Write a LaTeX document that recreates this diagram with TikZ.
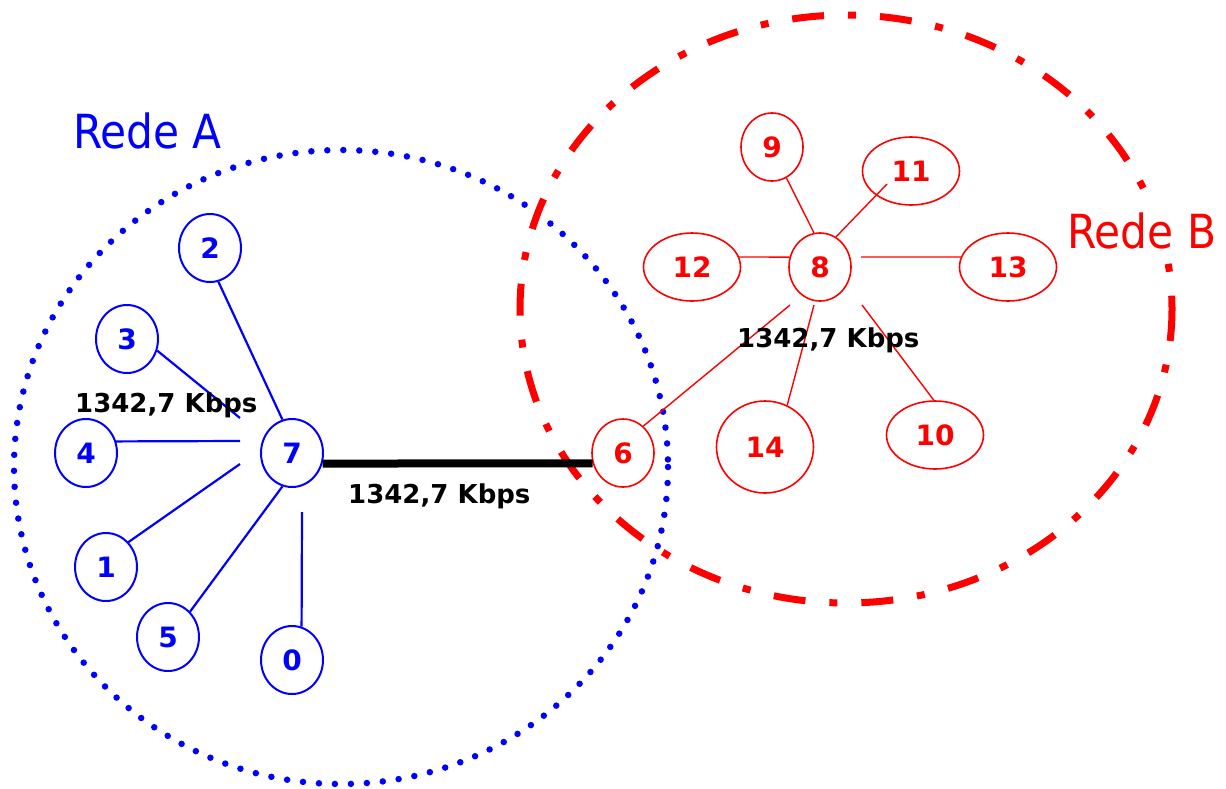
\documentclass[tikz,border=0pt]{standalone}
\usepackage{fontspec}
\setmainfont{DejaVu Sans}
\newfontfamily\redefont{DejaVu Sans}[FakeStretch=0.9]
\usetikzlibrary{shapes.geometric}
\definecolor{bl}{RGB}{0,0,255}
\definecolor{rd}{RGB}{255,0,0}
\begin{document}
\begin{tikzpicture}[x=1pt,y=-1pt,
  numfont/.style={font=\fontsize{28}{28}\selectfont\bfseries},
  bnode/.style={ellipse,draw=bl,line width=2pt,text=bl,numfont,inner sep=0pt,minimum width=62pt,minimum height=68pt},
  rnode/.style={ellipse,draw=rd,line width=1.6pt,text=rd,numfont,inner sep=0pt,minimum width=62pt,minimum height=68pt},
  rwide/.style={rnode,minimum width=97pt},
  bedge/.style={draw=bl,line width=2.2pt},
  redge/.style={draw=rd,line width=1.4pt},
  rate/.style={anchor=base west,inner sep=0pt,font=\fontsize{26}{26}\selectfont\bfseries,text=black},
  netlabel/.style={anchor=base west,font=\redefont\fontsize{47}{47}\selectfont}
]
\useasboundingbox (0,0) rectangle (1226,788);

% network boundaries
\draw[bl,line width=6.5pt,line cap=round,dash pattern=on 0pt off 16pt]
  (341,467) ellipse [x radius=327, y radius=317];
\draw[rd,line width=7pt,dash pattern=on 32pt off 24pt on 8pt off 24pt]
  (846,309) ellipse [x radius=326, y radius=294];

% blue nodes
\node[bnode] (n2) at (210,248) {2};
\node[bnode] (n3) at (127,339) {3};
\node[bnode] (n4) at (86,453) {4};
\node[bnode] (n7) at (292,453) {7};
\node[bnode] (n1) at (106,567) {1};
\node[bnode] (n5) at (168,637) {5};
\node[bnode] (n0) at (292,660) {0};

% red nodes
\node[rnode] (n9) at (772,147) {9};
\node[rnode] (n8) at (820,267) {8};
\node[rnode] (n6) at (623,453) {6};
\node[rwide] (n11) at (911,171) {11};
\node[rwide] (n12) at (692,267) {12};
\node[rwide] (n13) at (1008,267) {13};
\node[rwide] (n10) at (935,435) {10};
\node[rnode,minimum width=97pt,minimum height=92pt] (n14) at (765,447) {14};

% free ends
\coordinate (c3) at (240,418);
\coordinate (c4) at (240,441);
\coordinate (c1) at (240,464);
\coordinate (c0) at (302,512);
\coordinate (c11) at (887,184);
\coordinate (c13) at (861,257);
\coordinate (c6) at (790,305);
\coordinate (c14) at (814,305);
\coordinate (c10) at (862,305);

% blue edges
\draw[bedge] (n2.-76) -- (n7.106);
\draw[bedge] (n3.-21) -- (c3);
\draw[bedge] (n4.21) -- (c4);
\draw[bedge] (n1.48) -- (c1);
\draw[bedge] (n5.49) -- (n7.-106);
\draw[bedge] (n0.74) -- (c0);

% red edges
\draw[redge] (n9.-65) -- (n8.100);
\draw[redge] (c11) -- (n8.62);
\draw[redge] (n12.12) -- (n8.162);
\draw[redge] (c13) -- (n13.168);
\draw[redge] (n6.53) -- (c6);
\draw[redge] (n14.62) -- (c14);
\draw[redge] (n10.92) -- (c10);

% link between networks
\draw[black,line width=8pt] (n7.-19) -- (n6.-161);

% rate labels
\node[rate] (r1) at (75,412) {1342,7 Kbps};
\node[rate] (r2) at (348,503) {1342,7 Kbps};
\node[rate] (r3) at (737,347) {1342,7 Kbps};

% network labels
\node[netlabel,text=bl,inner sep=0pt] (la) at (73,148) {Rede A};
\node[netlabel,text=rd,fill=white,inner xsep=9pt,inner ysep=10pt] (lb) at (1058,248) {Rede B};
\end{tikzpicture}
\end{document}
